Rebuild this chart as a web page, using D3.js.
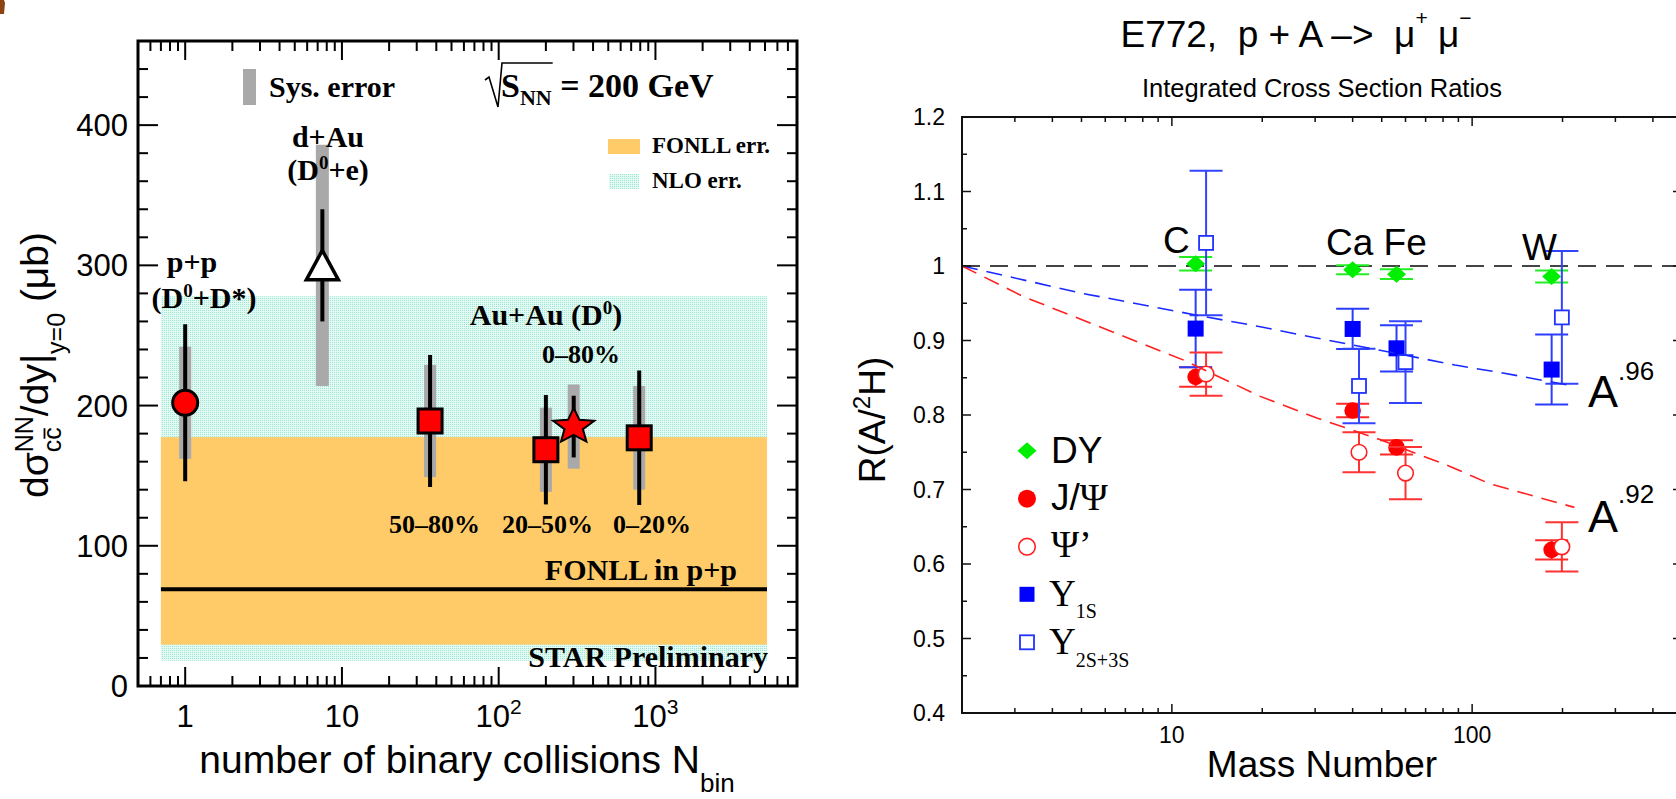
<!DOCTYPE html>
<html>
<head>
<meta charset="utf-8">
<script src="https://cdn.jsdelivr.net/npm/d3@7"></script>
<style>
  html, body { margin: 0; padding: 0; background: #fff; }
  svg { display: block; }
  text { white-space: pre; }
</style>
</head>
<body>
<svg id="chart" width="1676" height="799"></svg>
<script>
// ---------------- Left panel: charm cross section per NN collision vs N_bin ----------------
const systems      = ["p+p", "d+Au", "Au+Au 50–80%", "Au+Au 20–50%", "Au+Au 0–80%", "Au+Au 0–20%"];
const nBin         = [1, 7.5, 36.5, 200, 301, 788];
const sigmaCC      = [202, 300, 189, 168.5, 185, 177];
const statErr      = [56, 40, 47, 39, 22, 48];
const sysErr       = [40, 86, 40, 30, 30, 37];
const markerShape  = ["circle", "triangle", "square", "square", "star", "square"];
const nloBand      = [18, 278];
const fonllBand    = [29.5, 177.5];
const fonllCentral = 69;
const bandNbinRange = [0.7, 5150];
const leftYTicks   = [0, 100, 200, 300, 400];
const leftXTicks   = [1, 10, 100, 1000];

// ---------------- Right panel: E772 integrated cross section ratios ----------------
const nuclei      = ["C", "Ca", "Fe", "W"];
const massA       = [12, 40, 56, 184];
const massAShift  = [13, 42, 60, 199];     // open symbols are drawn slightly to the right
const dyRatio     = [1.003, 0.995, 0.989, 0.986];
const dyErr       = [0.009, 0.006, 0.0065, 0.008];
const jpsiRatio   = [0.851, 0.806, 0.7565, 0.619];
const jpsiErr     = [0.013, 0.009, 0.0096, 0.013];
const psipRatio   = [0.855, 0.750, 0.722, 0.623];
const psipErr     = [0.029, 0.027, 0.035, 0.033];
const ups1Ratio   = [0.916, 0.9155, 0.8895, 0.861];
const ups1Err     = [0.052, 0.027, 0.031, 0.047];
const ups23Ratio  = [1.031, 0.839, 0.871, 0.931];
const ups23Err    = [0.097, 0.050, 0.055, 0.089];
const fit92A      = [2, 3.2, 10.9, 19.7, 30.4, 49.3, 84.4, 114, 219];
const fit92R      = [1.0, 0.959, 0.874, 0.825, 0.796, 0.767, 0.731, 0.708, 0.676];
const fit96A      = [2, 5.07, 8.46, 12.1, 19.7, 29.7, 49.3, 87.7, 124, 217];
const fit96R      = [1.0, 0.963, 0.946, 0.934, 0.9185, 0.904, 0.887, 0.867, 0.857, 0.839];
const rightYTicks = [0.4, 0.5, 0.6, 0.7, 0.8, 0.9, 1.0, 1.1, 1.2];
const rightXTicks = [10, 100];

const SANS  = "'Liberation Sans', Arial, sans-serif";
const SERIF = "'Liberation Serif', 'Times New Roman', serif";

const svg = d3.select("#chart");

// Lays out a run of text pieces (super/subscripts, stacked indices) left to right.
function richText(parent, x, y, runs, opts = {}) {
  const g = parent.append("g")
    .attr("transform", `translate(${x},${y})` + (opts.rotate ? ` rotate(${opts.rotate})` : ""));
  const inner = g.append("g");
  let pos = 0, maxX = 0, mark = 0;
  const ext = [];
  runs.forEach(r => {
    let start = r.fromMark ? mark : (r.resume ? maxX : pos);
    start += (r.dx || 0);
    if (r.setMark) mark = start;
    const size = r.size || opts.size;
    const t = inner.append("text")
      .attr("x", start).attr("y", r.dy || 0)
      .attr("font-family", r.family || opts.family)
      .attr("font-size", size)
      .attr("font-weight", r.weight || opts.weight || "normal")
      .attr("fill", r.fill || opts.fill || "#000")
      .text(r.t);
    const w = t.node().getComputedTextLength();
    if (r.over) {
      inner.append("line")
        .attr("x1", start + 1).attr("x2", start + w - 1)
        .attr("y1", (r.dy || 0) - size * 0.66).attr("y2", (r.dy || 0) - size * 0.66)
        .attr("stroke", "#000").attr("stroke-width", 1.8);
    }
    ext.push({ start, w });
    pos = start + w;
    maxX = Math.max(maxX, pos);
  });
  const shift = opts.anchor === "middle" ? -maxX / 2 : opts.anchor === "end" ? -maxX : 0;
  inner.attr("transform", `translate(${shift},0)`);
  return { ext, shift, width: maxX };
}

// Pattern for the NLO uncertainty band (fine mint stipple)
const defs = svg.append("defs");
const pat = defs.append("pattern").attr("id", "nloFill")
  .attr("width", 2).attr("height", 2).attr("patternUnits", "userSpaceOnUse");
pat.append("rect").attr("width", 2).attr("height", 2).attr("fill", "#e2faf3");
pat.append("rect").attr("x", 0).attr("y", 0).attr("width", 1).attr("height", 1).attr("fill", "#9ee6d2");

// small brown mark in the top-left corner
svg.append("path").attr("d", "M0,0H4L5,3L4,14H0Z").attr("fill", "#8b4513");

// =====================================================================
// LEFT PANEL
// =====================================================================
const xL = d3.scaleLog().domain([0.5, 8000]).range([138, 797]);
const yL = d3.scaleLinear().domain([0, 460]).range([686, 41]);
const L = svg.append("g");

// theory bands
L.append("rect")
  .attr("x", xL(bandNbinRange[0])).attr("width", xL(bandNbinRange[1]) - xL(bandNbinRange[0]))
  .attr("y", yL(nloBand[1])).attr("height", yL(nloBand[0]) - yL(nloBand[1]))
  .attr("fill", "url(#nloFill)");
L.append("rect")
  .attr("x", xL(bandNbinRange[0])).attr("width", xL(bandNbinRange[1]) - xL(bandNbinRange[0]))
  .attr("y", yL(fonllBand[1])).attr("height", yL(fonllBand[0]) - yL(fonllBand[1]))
  .attr("fill", "#ffcb69");
L.append("line")
  .attr("x1", xL(bandNbinRange[0])).attr("x2", xL(bandNbinRange[1]))
  .attr("y1", yL(fonllCentral)).attr("y2", yL(fonllCentral))
  .attr("stroke", "#000").attr("stroke-width", 4);

// systematic errors (grey bars)
L.selectAll("rect.sys").data(nBin).join("rect").attr("class", "sys")
  .attr("x", (d, i) => xL(d) - (i === 1 ? 6.5 : 6))
  .attr("width", (d, i) => i === 1 ? 13 : 12)
  .attr("y", (d, i) => yL(sigmaCC[i] + sysErr[i]))
  .attr("height", (d, i) => yL(sigmaCC[i] - sysErr[i]) - yL(sigmaCC[i] + sysErr[i]))
  .attr("fill", "#a9a9a9");

// statistical errors
L.selectAll("line.stat").data(nBin).join("line").attr("class", "stat")
  .attr("x1", d => xL(d)).attr("x2", d => xL(d))
  .attr("y1", (d, i) => yL(sigmaCC[i] + statErr[i]))
  .attr("y2", (d, i) => yL(sigmaCC[i] - statErr[i]))
  .attr("stroke", "#000").attr("stroke-width", 4);

// markers
function starPath(R, ratio, sx, sy) {
  const pts = [];
  for (let k = 0; k < 10; k++) {
    const r = k % 2 === 0 ? R : R * ratio;
    const a = -Math.PI / 2 + k * Math.PI / 5;
    pts.push([r * Math.cos(a) * sx, r * Math.sin(a) * sy]);
  }
  return "M" + pts.map(p => p.join(",")).join("L") + "Z";
}
nBin.forEach((n, i) => {
  const cx = xL(n), cy = yL(sigmaCC[i]);
  const shape = markerShape[i];
  if (shape === "circle") {
    L.append("circle").attr("cx", cx).attr("cy", cy).attr("r", 12.5)
      .attr("fill", "#ff0000").attr("stroke", "#000").attr("stroke-width", 3);
  } else if (shape === "square") {
    L.append("rect").attr("x", cx - 12).attr("y", cy - 12).attr("width", 24).attr("height", 24)
      .attr("fill", "#ff0000").attr("stroke", "#000").attr("stroke-width", 3);
  } else if (shape === "triangle") {
    L.append("path").attr("transform", `translate(${cx},${cy})`)
      .attr("d", "M0,-15L-16,14.5L16,14.5Z")
      .attr("fill", "#fff").attr("stroke", "#000").attr("stroke-width", 3.5)
      .attr("stroke-linejoin", "miter");
  } else if (shape === "star") {
    L.append("path").attr("transform", `translate(${cx},${cy})`)
      .attr("d", starPath(20, 0.45, 1.08, 0.93))
      .attr("fill", "#ff0000").attr("stroke", "#000").attr("stroke-width", 2);
  }
});

// annotations (bold serif)
const lbl = (x, y, runs, size, anchor) =>
  richText(L, x, y, runs, { family: SERIF, weight: "bold", size: size, anchor: anchor });

// legend: sys error
L.append("rect").attr("x", 243).attr("y", 69).attr("width", 13).attr("height", 36).attr("fill", "#a9a9a9");
lbl(269, 97, [{ t: "Sys. error" }], 30, "start");

// sqrt(s_NN) = 200 GeV
const sq = lbl(501, 97, [{ t: "S", size: 34 }, { t: "NN", size: 22, dy: 8 }, { t: " = 200 GeV", size: 34 }], 34, "start");
const nnEnd = 501 + sq.ext[1].start + sq.ext[1].w + 1;
L.append("path")
  .attr("d", `M485,80L489,77L498,107L502,63H${nnEnd}`)
  .attr("fill", "none").attr("stroke", "#000").attr("stroke-width", 1.6);

// band legend
L.append("rect").attr("x", 608).attr("y", 139).attr("width", 32).attr("height", 15).attr("fill", "#ffcb69");
lbl(652, 153, [{ t: "FONLL err." }], 23, "start");
L.append("rect").attr("x", 609).attr("y", 174).attr("width", 30).attr("height", 15).attr("fill", "url(#nloFill)");
lbl(652, 188, [{ t: "NLO err." }], 23, "start");

// point labels
lbl(328, 147, [{ t: "d+Au" }], 30, "middle");
lbl(328, 180, [{ t: "(D" }, { t: "0", size: 19, dy: -11 }, { t: "+e)" }], 30, "middle");
lbl(192, 272, [{ t: "p+p" }], 30, "middle");
lbl(204, 308, [{ t: "(D" }, { t: "0", size: 19, dy: -11 }, { t: "+D*)" }], 30, "middle");
lbl(546, 325, [{ t: "Au+Au (D" }, { t: "0", size: 19, dy: -11 }, { t: ")" }], 30, "middle");
lbl(581, 363, [{ t: "0–80%" }], 26, "middle");
lbl(434.5, 533, [{ t: "50–80%" }], 26, "middle");
lbl(547.5, 533, [{ t: "20–50%" }], 26, "middle");
lbl(652, 533, [{ t: "0–20%" }], 26, "middle");
lbl(737, 580, [{ t: "FONLL in p+p" }], 30, "end");
lbl(768, 667, [{ t: "STAR Preliminary" }], 30, "end");

// frame and ticks
L.append("rect").attr("x", 138).attr("y", 41).attr("width", 797 - 138).attr("height", 686 - 41)
  .attr("fill", "none").attr("stroke", "#000").attr("stroke-width", 3);

const leftMinorX = [];
for (let e = -1; e <= 3; e++) for (let k = 2; k <= 9; k++) {
  const v = k * Math.pow(10, e);
  if (v > 0.5 && v < 8000) leftMinorX.push(v);
}
const tickG = L.append("g").attr("stroke", "#000").attr("stroke-width", 2);
leftXTicks.forEach(v => {
  tickG.append("line").attr("x1", xL(v)).attr("x2", xL(v)).attr("y1", 686).attr("y2", 667);
  tickG.append("line").attr("x1", xL(v)).attr("x2", xL(v)).attr("y1", 41).attr("y2", 60);
});
leftMinorX.forEach(v => {
  tickG.append("line").attr("x1", xL(v)).attr("x2", xL(v)).attr("y1", 686).attr("y2", 676);
  tickG.append("line").attr("x1", xL(v)).attr("x2", xL(v)).attr("y1", 41).attr("y2", 51);
});
d3.range(0, 461, 20).forEach(v => {
  const len = v % 100 === 0 ? 20 : 10;
  tickG.append("line").attr("x1", 138).attr("x2", 138 + len).attr("y1", yL(v)).attr("y2", yL(v));
  tickG.append("line").attr("x1", 797).attr("x2", 797 - len).attr("y1", yL(v)).attr("y2", yL(v));
});

// tick labels
leftYTicks.forEach(v => {
  L.append("text").attr("x", 128).attr("y", yL(v) + 11).attr("text-anchor", "end")
    .attr("font-family", SANS).attr("font-size", 31).text(v);
});
leftXTicks.forEach(v => {
  const e = Math.round(Math.log10(v));
  const runs = e <= 1 ? [{ t: String(v) }] : [{ t: "10" }, { t: String(e), size: 21, dy: -13 }];
  richText(L, xL(v), 727, runs, { family: SANS, size: 31, anchor: "middle" });
});

// axis titles
richText(L, 467, 773, [
  { t: "number of binary collisions N" },
  { t: "bin", size: 26, dy: 19 }
], { family: SANS, size: 39, anchor: "middle" });

richText(L, 48, 498, [
  { t: "dσ" },
  { t: "NN", size: 25, dy: -15, setMark: true },
  { t: "c", size: 25, dy: 13, fromMark: true },
  { t: "c", size: 25, dy: 13, over: true },
  { t: "/dy|", resume: true },
  { t: "y=0", size: 25, dy: 17 },
  { t: " (μb)" }
], { family: SANS, size: 39, rotate: -90 });

// =====================================================================
// RIGHT PANEL
// =====================================================================
const xR = d3.scaleLog().domain([2, 500]).range([962, 1682]);
const yR = d3.scaleLinear().domain([0.4, 1.2]).range([713, 117]);
const R = svg.append("g");

// titles
richText(R, 1296, 47, [
  { t: "E772,  p + A –>  μ" },
  { t: "+", size: 21, dy: -22 },
  { t: " μ" },
  { t: "−", size: 21, dy: -22 }
], { family: SANS, size: 37, anchor: "middle" });
R.append("text").attr("x", 1322).attr("y", 97).attr("text-anchor", "middle")
  .attr("font-family", SANS).attr("font-size", 25.5).text("Integrated Cross Section Ratios");

// reference line at R = 1
R.append("line").attr("x1", xR(2)).attr("x2", xR(500)).attr("y1", yR(1)).attr("y2", yR(1))
  .attr("stroke", "#444").attr("stroke-width", 2).attr("stroke-dasharray", "18,10");

// error bars with caps
function errBars(xs, ys, es, color) {
  const g = R.append("g").attr("stroke", color).attr("stroke-width", 2);
  xs.forEach((a, i) => {
    const cx = xR(a), yt = yR(ys[i] + es[i]), yb = yR(ys[i] - es[i]);
    g.append("line").attr("x1", cx).attr("x2", cx).attr("y1", yt).attr("y2", yb);
    g.append("line").attr("x1", cx - 16.5).attr("x2", cx + 16.5).attr("y1", yt).attr("y2", yt);
    g.append("line").attr("x1", cx - 16.5).attr("x2", cx + 16.5).attr("y1", yb).attr("y2", yb);
  });
}
const diamond = "M0,-8.5L9.5,0L0,8.5L-9.5,0Z";

// Drell-Yan
errBars(massA, dyRatio, dyErr, "#22ee22");
massA.forEach((a, i) => R.append("path").attr("transform", `translate(${xR(a)},${yR(dyRatio[i])})`)
  .attr("d", diamond).attr("fill", "#00ee00"));
// J/psi
errBars(massA, jpsiRatio, jpsiErr, "#ff2a2a");
massA.forEach((a, i) => R.append("circle").attr("cx", xR(a)).attr("cy", yR(jpsiRatio[i]))
  .attr("r", 8.3).attr("fill", "#ff0000"));
// Upsilon 1S
errBars(massA, ups1Ratio, ups1Err, "#2a3cff");
massA.forEach((a, i) => R.append("rect").attr("x", xR(a) - 8).attr("y", yR(ups1Ratio[i]) - 8)
  .attr("width", 16).attr("height", 16).attr("fill", "#0000ff"));
// psi'
errBars(massAShift, psipRatio, psipErr, "#ff3333");
massAShift.forEach((a, i) => R.append("circle").attr("cx", xR(a)).attr("cy", yR(psipRatio[i]))
  .attr("r", 7.8).attr("fill", "#fff").attr("stroke", "#ff2020").attr("stroke-width", 1.6));
// Upsilon 2S+3S
errBars(massAShift, ups23Ratio, ups23Err, "#3344ff");
massAShift.forEach((a, i) => R.append("rect").attr("x", xR(a) - 7).attr("y", yR(ups23Ratio[i]) - 7)
  .attr("width", 14).attr("height", 14).attr("fill", "#fff").attr("stroke", "#2233ff").attr("stroke-width", 1.8));

// A^alpha curves
const fitLine = d3.line().x(d => xR(d[0])).y(d => yR(d[1]));
R.append("path").attr("d", fitLine(fit96A.map((a, i) => [a, fit96R[i]])))
  .attr("fill", "none").attr("stroke", "#1a2aff").attr("stroke-width", 1.6).attr("stroke-dasharray", "16,9");
R.append("path").attr("d", fitLine(fit92A.map((a, i) => [a, fit92R[i]])))
  .attr("fill", "none").attr("stroke", "#ff2020").attr("stroke-width", 1.6).attr("stroke-dasharray", "16,9");

richText(R, 1588, 407, [{ t: "A" }, { t: ".96", size: 26, dy: -27 }], { family: SANS, size: 45 });
richText(R, 1588, 532, [{ t: "A" }, { t: ".92", size: 26, dy: -29 }], { family: SANS, size: 45 });

// nucleus labels
const nucLbl = (x, y, t) => R.append("text").attr("x", x).attr("y", y)
  .attr("font-family", SANS).attr("font-size", 37).text(t);
nucLbl(1163, 253, nuclei[0]);
nucLbl(1326, 255, nuclei[1] + " " + nuclei[2]);
nucLbl(1522, 260, nuclei[3]);

// legend
const lgX = 1027, lgT = 1051;
R.append("path").attr("transform", `translate(${lgX},450.7)`).attr("d", diamond).attr("fill", "#00ee00");
R.append("circle").attr("cx", lgX).attr("cy", 498.7).attr("r", 9).attr("fill", "#ff0000");
R.append("circle").attr("cx", lgX).attr("cy", 546.7).attr("r", 8.3).attr("fill", "#fff")
  .attr("stroke", "#ff2020").attr("stroke-width", 1.6);
R.append("rect").attr("x", lgX - 7.5).attr("y", 594.3 - 7.5).attr("width", 15).attr("height", 15).attr("fill", "#0000ff");
R.append("rect").attr("x", lgX - 7).attr("y", 642.3 - 7).attr("width", 14).attr("height", 14)
  .attr("fill", "#fff").attr("stroke", "#2233ff").attr("stroke-width", 1.8);

richText(R, lgT, 463, [{ t: "DY" }], { family: SANS, size: 37 });
richText(R, lgT, 510, [{ t: "J/" }, { t: "Ψ", family: SERIF, size: 38 }], { family: SANS, size: 37 });
richText(R, lgT, 557, [{ t: "Ψ’" }], { family: SERIF, size: 38 });
richText(R, lgT - 2, 606, [{ t: "Υ" }, { t: "1S", size: 20, dy: 12 }], { family: SERIF, size: 37 });
richText(R, lgT - 2, 654, [{ t: "Υ" }, { t: "2S+3S", size: 20, dy: 13 }], { family: SERIF, size: 37 });

// frame & ticks
const fr = R.append("g").attr("stroke", "#111").attr("stroke-width", 2);
fr.append("line").attr("x1", 962).attr("x2", 962).attr("y1", 117).attr("y2", 713);
fr.append("line").attr("x1", 961).attr("x2", 1682).attr("y1", 713).attr("y2", 713);
fr.append("line").attr("x1", 961).attr("x2", 1682).attr("y1", 117).attr("y2", 117);
fr.append("line").attr("x1", 1682).attr("x2", 1682).attr("y1", 117).attr("y2", 713);

const rt = R.append("g").attr("stroke", "#111").attr("stroke-width", 1.5);
const rightMinorX = [];
for (let e = 0; e <= 2; e++) for (let k = 2; k <= 9; k++) {
  const v = k * Math.pow(10, e);
  if (v > 2 && v < 500) rightMinorX.push(v);
}
rightXTicks.forEach(v => {
  rt.append("line").attr("x1", xR(v)).attr("x2", xR(v)).attr("y1", 713).attr("y2", 704);
  rt.append("line").attr("x1", xR(v)).attr("x2", xR(v)).attr("y1", 117).attr("y2", 126);
});
rightMinorX.forEach(v => {
  rt.append("line").attr("x1", xR(v)).attr("x2", xR(v)).attr("y1", 713).attr("y2", 708);
  rt.append("line").attr("x1", xR(v)).attr("x2", xR(v)).attr("y1", 117).attr("y2", 122);
});
d3.range(8, 25).forEach(k => {
  const v = k * 0.05, len = k % 2 === 0 ? 9 : 5;
  rt.append("line").attr("x1", 962).attr("x2", 962 + len).attr("y1", yR(v)).attr("y2", yR(v));
  rt.append("line").attr("x1", 1682).attr("x2", 1682 - len).attr("y1", yR(v)).attr("y2", yR(v));
});

rightYTicks.forEach(v => {
  R.append("text").attr("x", 945).attr("y", yR(v) + 8).attr("text-anchor", "end")
    .attr("font-family", SANS).attr("font-size", 23).text(v === 1 ? "1" : v.toFixed(1));
});
rightXTicks.forEach(v => {
  R.append("text").attr("x", xR(v)).attr("y", 743).attr("text-anchor", "middle")
    .attr("font-family", SANS).attr("font-size", 23).text(v);
});

R.append("text").attr("x", 1322).attr("y", 777).attr("text-anchor", "middle")
  .attr("font-family", SANS).attr("font-size", 37).text("Mass Number");
richText(R, 885, 420, [{ t: "R(A/" }, { t: "2", size: 24, dy: -15 }, { t: "H)" }],
  { family: SANS, size: 37, anchor: "middle", rotate: -90 });
</script>
</body>
</html>
